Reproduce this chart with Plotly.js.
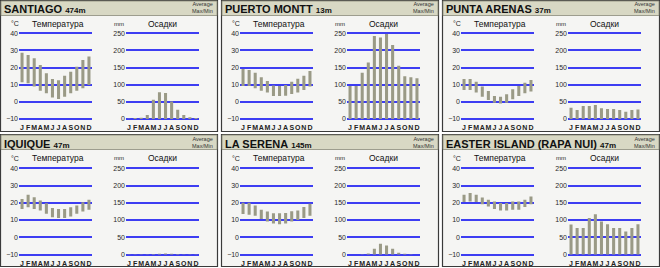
<!DOCTYPE html>
<html><head><meta charset="utf-8">
<script src="https://cdn.plot.ly/plotly-3.0.1.min.js"></script>
<style>html,body{margin:0;padding:0;background:#fff}#chart{width:660px;height:268px}</style>
</head><body><div id="chart"></div>
<script>
// ---- data ----
const months = ['J','F','M','A','M','J','J','A','S','O','N','D'];
const cities = ['SANTIAGO','PUERTO MONTT','PUNTA ARENAS','IQUIQUE','LA SERENA','EASTER ISLAND (RAPA NUI)'];
const elevations = ['474m','13m','37m','47m','145m','47m'];
const tempTicks = [-10,0,10,20,30,40];
const rainTicks = [0,50,100,150,200,250];

const santiagoMax = [28.7,27.4,25.4,21.5,16.7,13.3,12.6,15.3,17.6,20.5,24.4,26.4];
const santiagoMin = [11.4,10.8,8.9,6.5,5.0,2.6,1.7,3.0,5.0,6.5,7.9,9.8];
const santiagoRain = [1,3,4,12,56,78,76,51,27,12,5,3];

const puertoMonttMax = [19.2,18.6,17.0,14.3,12.2,9.5,9.3,9.8,11.8,13.5,15.3,18.0];
const puertoMonttMin = [9.3,9.3,7.9,6.5,5.4,3.4,3.4,3.6,4.6,5.4,6.9,8.9];
const puertoMonttRain = [96,96,135,165,242,238,248,216,155,125,122,119];

const puntaArenasMax = [13.3,13.3,11.8,8.9,6.3,3.4,3.0,4.4,7.3,9.3,11.2,12.8];
const puntaArenasMin = [6.9,6.9,5.4,3.0,1.1,-0.5,-1.0,-0.5,1.5,3.4,5.0,6.0];
const puntaArenasRain = [33,26,38,38,41,31,29,29,26,21,26,28];

const iquiqueMax = [22.2,24.6,23.2,21.3,19.7,17.0,16.4,16.4,17.4,18.4,20.3,21.7];
const iquiqueMin = [16.4,17.4,16.4,15.5,13.6,11.6,11.2,11.2,12.0,13.6,14.9,15.9];
const iquiqueRain = [1,1,1,1,1.5,2,3,2,1.5,1,1,1];

const laSerenaMax = [20.0,20.0,18.4,15.9,14.9,13.9,13.9,14.1,15.1,15.5,17.5,19.4];
const laSerenaMin = [13.5,13.1,12.5,10.6,9.2,8.0,7.6,8.0,9.2,10.0,11.2,12.5];
const laSerenaRain = [0,0,0.5,3,17,31,26,17,5,2,1,0];

const easterMax = [24.7,25.7,24.7,23.1,21.7,20.8,19.8,19.8,20.8,20.8,21.7,23.7];
const easterMin = [20.4,20.8,20.4,19.2,17.8,16.4,15.5,15.5,15.9,15.9,17.5,19.2];
const easterRain = [87,77,77,106,117,96,88,77,77,67,77,88];

const maxes = [santiagoMax,puertoMonttMax,puntaArenasMax,iquiqueMax,laSerenaMax,easterMax];
const mins = [santiagoMin,puertoMonttMin,puntaArenasMin,iquiqueMin,laSerenaMin,easterMin];
const rains = [santiagoRain,puertoMonttRain,puntaArenasRain,iquiqueRain,laSerenaRain,easterRain];

// ---- layout geometry ----
const W = 660, H = 268;
const px = p => p / W;
const py = p => 1 - p / H;
const colX = [0, 221, 442];
const rowY = [0, 134];
const panelW = 218;
const panelH = [132, 133];
const grid40 = [33.3, 168.3];
const gridM10 = [119, 254.5];
const barColor = '#9a9a86';
const gridColor = '#3d3df2';
const FONT = 'Liberation Sans, Arial, sans-serif';

const monthX = months.map((m, i) => i + 1);
const traces = [];
const layout = {
  width: W, height: H,
  margin: {l: 0, r: 0, t: 0, b: 0},
  paper_bgcolor: '#ffffff',
  plot_bgcolor: 'rgba(0,0,0,0)',
  showlegend: false,
  bargap: 0.5,
  shapes: [],
  annotations: [],
  font: {family: FONT, color: '#222'}
};

cities.forEach((city, i) => {
  const c = i % 3, r = Math.floor(i / 3);
  const x0 = colX[c], y0 = rowY[r];
  const ppu = (gridM10[r] - grid40[r]) / 50;
  const top = grid40[r] - 2 * ppu, bot = gridM10[r] + 2 * ppu;
  const ydom = [py(bot), py(top)];
  const nT = 2 * i + 1, nR = 2 * i + 2;

  // panel background and header
  layout.shapes.push({type: 'rect', xref: 'paper', yref: 'paper', layer: 'below',
    x0: px(x0 + 0.5), x1: px(x0 + panelW - 0.5), y0: py(y0 + panelH[r] - 0.5), y1: py(y0 + 0.5),
    fillcolor: '#f5f5f3', line: {color: '#3a3a3a', width: 1.2}});
  layout.shapes.push({type: 'rect', xref: 'paper', yref: 'paper', layer: 'below',
    x0: px(x0 + 1), x1: px(x0 + panelW - 1), y0: py(y0 + 15.5), y1: py(y0 + 1),
    fillcolor: '#d8d8c4', line: {color: '#8a8a7a', width: 0.8}});

  // traces
  traces.push({type: 'bar', x: monthX, y: maxes[i].map((v, k) => v - mins[i][k]), base: mins[i],
    xaxis: 'x' + nT, yaxis: 'y' + nT, marker: {color: barColor}, width: 0.5, hoverinfo: 'skip'});
  traces.push({type: 'bar', x: monthX, y: rains[i],
    xaxis: 'x' + nR, yaxis: 'y' + nR, marker: {color: barColor}, width: 0.5, hoverinfo: 'skip'});

  const xCommon = {range: [0.5, 12.5], tickvals: monthX, ticktext: months, showgrid: false,
    zeroline: false, showline: false, ticks: '', fixedrange: true,
    tickfont: {family: FONT, size: 7, color: '#222222', weight: 'bold'}, tickangle: 0};
  const yCommon = {showgrid: true, gridcolor: gridColor, gridwidth: 2, zeroline: false,
    showline: false, ticks: '', fixedrange: true, domain: ydom,
    tickfont: {family: FONT, size: 7, color: '#2a2a2a'}};

  layout['xaxis' + nT] = Object.assign({}, xCommon, {domain: [px(x0 + 19), px(x0 + 92)], anchor: 'y' + nT});
  layout['yaxis' + nT] = Object.assign({}, yCommon, {range: [-12, 42], tickvals: tempTicks, anchor: 'x' + nT});
  layout['xaxis' + nR] = Object.assign({}, xCommon, {domain: [px(x0 + 126), px(x0 + 199)], anchor: 'y' + nR});
  layout['yaxis' + nR] = Object.assign({}, yCommon, {range: [-10, 260], tickvals: rainTicks, anchor: 'x' + nR});

  // texts
  const hy = y0 + (r === 0 ? 8.5 : 9.5);
  layout.annotations.push({xref: 'paper', yref: 'paper', x: px(x0 + 2), y: py(hy), xanchor: 'left', yanchor: 'middle',
    showarrow: false, text: '<b>' + city + '</b> <span style="font-size:8px"><b>' + elevations[i] + '</b></span>',
    font: {family: FONT, size: 11, color: '#111'}});
  layout.annotations.push({xref: 'paper', yref: 'paper', x: px(x0 + panelW - 3), y: py(y0 + 8), xanchor: 'right', yanchor: 'middle',
    showarrow: false, align: 'right', text: 'Average<br>Max/Min',
    font: {family: FONT, size: 5.5, color: '#333'}});
  const ty = y0 + (r === 0 ? 23.5 : 24);
  layout.annotations.push({xref: 'paper', yref: 'paper', x: px(x0 + 14.5), y: py(ty), xanchor: 'center', yanchor: 'middle',
    showarrow: false, text: '°C', font: {family: FONT, size: 7, color: '#222'}});
  layout.annotations.push({xref: 'paper', yref: 'paper', x: px(x0 + 57.5), y: py(ty), xanchor: 'center', yanchor: 'middle',
    showarrow: false, text: 'Температура', font: {family: FONT, size: 8.5, color: '#111'}});
  layout.annotations.push({xref: 'paper', yref: 'paper', x: px(x0 + 119), y: py(ty), xanchor: 'center', yanchor: 'middle',
    showarrow: false, text: 'mm', font: {family: FONT, size: 6, color: '#222'}});
  layout.annotations.push({xref: 'paper', yref: 'paper', x: px(x0 + 162), y: py(ty), xanchor: 'center', yanchor: 'middle',
    showarrow: false, text: 'Осадки', font: {family: FONT, size: 8.5, color: '#111'}});
});

Plotly.newPlot('chart', traces, layout, {staticPlot: true, displayModeBar: false});
</script>
</body></html>
